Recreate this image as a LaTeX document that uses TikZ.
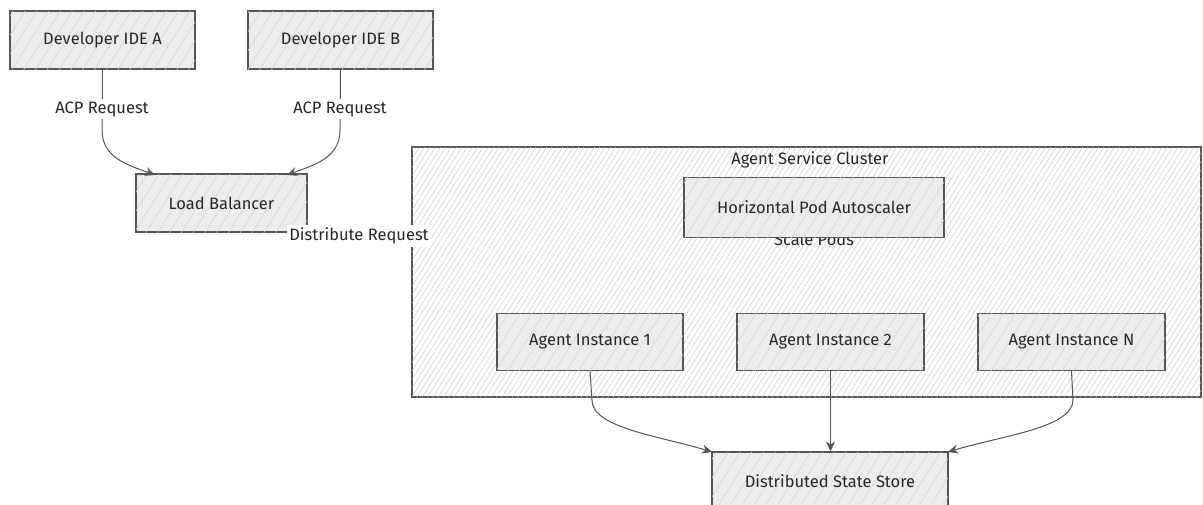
\documentclass[tikz,border=0pt]{standalone}
\usepackage{fontspec}
\setmainfont{Fira Sans}
\usetikzlibrary{patterns.meta,arrows.meta}
\definecolor{edgegray}{HTML}{555555}
\definecolor{boxgray}{HTML}{ECECEC}
\definecolor{hatch}{HTML}{D2D2D2}
\definecolor{clhatch}{HTML}{C4C4C4}
\definecolor{ink}{HTML}{262626}
\tikzset{
  lbl/.style={font=\fontsize{16.5}{19}\selectfont, text=ink},
  boxnode/.style={lbl, draw=edgegray, line width=1.1pt, fill=boxgray,
    minimum height=58pt, inner sep=0pt,
    postaction={pattern={Lines[angle=58,distance=10pt,line width=0.5pt]}, pattern color=hatch}},
  clusterbox/.style={draw=edgegray, line width=1.1pt, fill=white, inner sep=0pt,
    postaction={pattern={Lines[angle=58,distance=4.5pt,line width=0.4pt]}, pattern color=clhatch}},
  edgelbl/.style={lbl, fill=white, inner sep=2.5pt},
  conn/.style={draw=edgegray, line width=1pt, -{Stealth[length=10pt,width=9pt]}},
}
\begin{document}
\begin{tikzpicture}[x=1pt,y=-1pt]
\useasboundingbox (0,0) rectangle (1203,504);

% cluster background
\node[clusterbox, minimum width=789pt, minimum height=250pt] (cluster) at (806.5,272) {};
\node[lbl] (cltitle) at (810,160) {Agent Service Cluster};
\node[lbl] (scalelbl) at (814,239) {Scale Pods};

% connector end points on the target boxes
\coordinate (lbinA) at (155,175);
\coordinate (lbinB) at (287,175);
\coordinate (dssinL) at (712,452);
\coordinate (dssinR) at (948,452);

\node[boxnode, minimum width=185pt] (ideA) at (102.5,40) {Developer IDE A};
\node[boxnode, minimum width=185pt] (ideB) at (340.5,40) {Developer IDE B};
\node[boxnode, minimum width=171pt] (lb) at (221.5,203) {Load Balancer};
\node[boxnode, minimum width=260pt, minimum height=60pt] (hpa) at (814,207.5) {Horizontal Pod Autoscaler};
\node[boxnode, minimum width=186pt, minimum height=57pt] (ai1) at (590,342) {Agent Instance 1};
\node[boxnode, minimum width=187pt, minimum height=57pt] (ai2) at (830.5,342) {Agent Instance 2};
\node[boxnode, minimum width=187pt, minimum height=57pt] (ain) at (1071.5,342) {Agent Instance N};
\node[boxnode, minimum width=236pt] (dss) at (830,481) {Distributed State Store};

\draw[conn] (ideA.south) -- (102,130) .. controls (102,158) and (128,165) .. (lbinA);
\draw[conn] (ideB.south) -- (340,130) .. controls (340,158) and (314,165) .. (lbinB);
\draw[conn] (ai1.south) -- (592,400) .. controls (592,428) and (660,436) .. (dssinL);
\draw[conn] (ai2.south) -- (ai2.south |- dss.north);
\draw[conn] (ain.south) -- (1073,400) .. controls (1073,428) and (1000,436) .. (dssinR);

\node[edgelbl] (lblA) at (102,109) {ACP Request};
\node[edgelbl] (lblB) at (340,109) {ACP Request};
\node[edgelbl] (distlbl) at (359,236) {Distribute Request};
\end{tikzpicture}
\end{document}
